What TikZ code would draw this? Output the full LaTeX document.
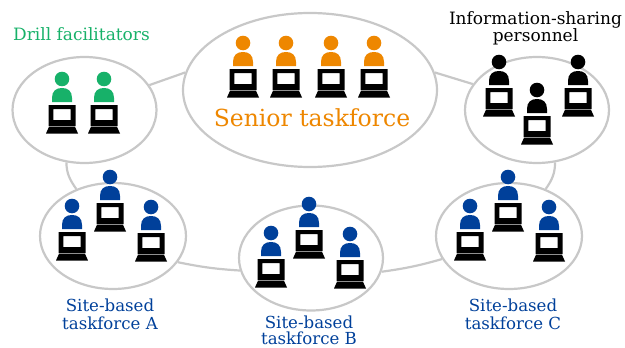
\documentclass[tikz,border=0pt]{standalone}
\usepackage{fontspec}
\setmainfont{DejaVu Serif}
\usetikzlibrary{shapes.geometric}
\definecolor{ringgray}{HTML}{C8C8C8}
\definecolor{dgreen}{HTML}{17B169}
\definecolor{dblue}{HTML}{00409A}
\definecolor{dorange}{HTML}{EE8700}
\tikzset{
  group/.style={ellipse,draw=ringgray,line width=2.2pt,fill=white,inner sep=0pt,minimum width=#1},
  link/.style={draw=ringgray,line width=2.2pt},
  lbl/.style={align=center,inner sep=0pt,font=\fontsize{#1}{15}\selectfont},
  pics/worker/.style={code={
    \fill[#1] (0,0) circle (7.3);
    \fill[#1] (-10,23) -- (-10,19) .. controls (-10,12) and (-6,9) .. (0,9) .. controls (6,9) and (10,12) .. (10,19) -- (10,23) -- cycle;
    \fill[black,even odd rule] (-13.5,26) rectangle (13.5,47) (-8.6,30) rectangle (8.6,41);
    \fill[black] (-13,47.7) -- (13,47.7) -- (16,54.5) -- (-16,54.5) -- cycle;
  }}
}
\begin{document}
\begin{tikzpicture}[x=1pt,y=-1pt]
\useasboundingbox (0,0) rectangle (625,348);
% groups
\node[group=144,minimum height=106] (fac) at (84.5,110) {};
\node[group=254,minimum height=154] (senior) at (310,90) {};
\node[group=144,minimum height=106] (info) at (537,110) {};
\node[group=146,minimum height=106] (siteA) at (113,236) {};
\node[group=144,minimum height=105] (siteB) at (311,258) {};
\node[group=146,minimum height=106] (siteC) at (509,236) {};
% connectors
\draw[link] (fac.21) -- (senior.172);
\draw[link] (senior.8) -- (info.158);
\draw[link] (fac.-109) to[out=-90,in=125] (siteA.128);
\draw[link] (info.-71) to[out=-90,in=55] (siteC.52);
\draw[link] (siteA.-22) to[bend right=4] (siteB.190);
\draw[link] (siteB.-11) to[bend right=4] (siteC.199);
% people
\foreach \x/\y in {62/79,104/79} \pic at (\x,\y) {worker=dgreen};
\foreach \x/\y in {243/43,286/43,331/43,374/43} \pic at (\x,\y) {worker=dorange};
\foreach \x/\y in {499/62,537/90,578/62} \pic at (\x,\y) {worker=black};
\foreach \x/\y in {110/177,72/206,151/207,309/204,271/233,350/234,508/177,470/206,549/207} \pic at (\x,\y) {worker=dblue};
% labels
\node[lbl=17,text=dgreen] (tfac) at (81.5,34) {Drill facilitators};
\node[lbl=23.5,text=dorange] (tsenior) at (312,118) {Senior taskforce};
\node[lbl=17] (tinfo) at (535.5,28) {Information-sharing\\[-1pt]personnel};
\node[lbl=16.6,text=dblue] (tA) at (110,314) {Site-based\\[3pt]taskforce A};
\node[lbl=16.6,text=dblue] (tB) at (309,330.5) {Site-based\\[1.5pt]taskforce B};
\node[lbl=16.6,text=dblue] (tC) at (513,314) {Site-based\\[3pt]taskforce C};
\end{tikzpicture}
\end{document}
